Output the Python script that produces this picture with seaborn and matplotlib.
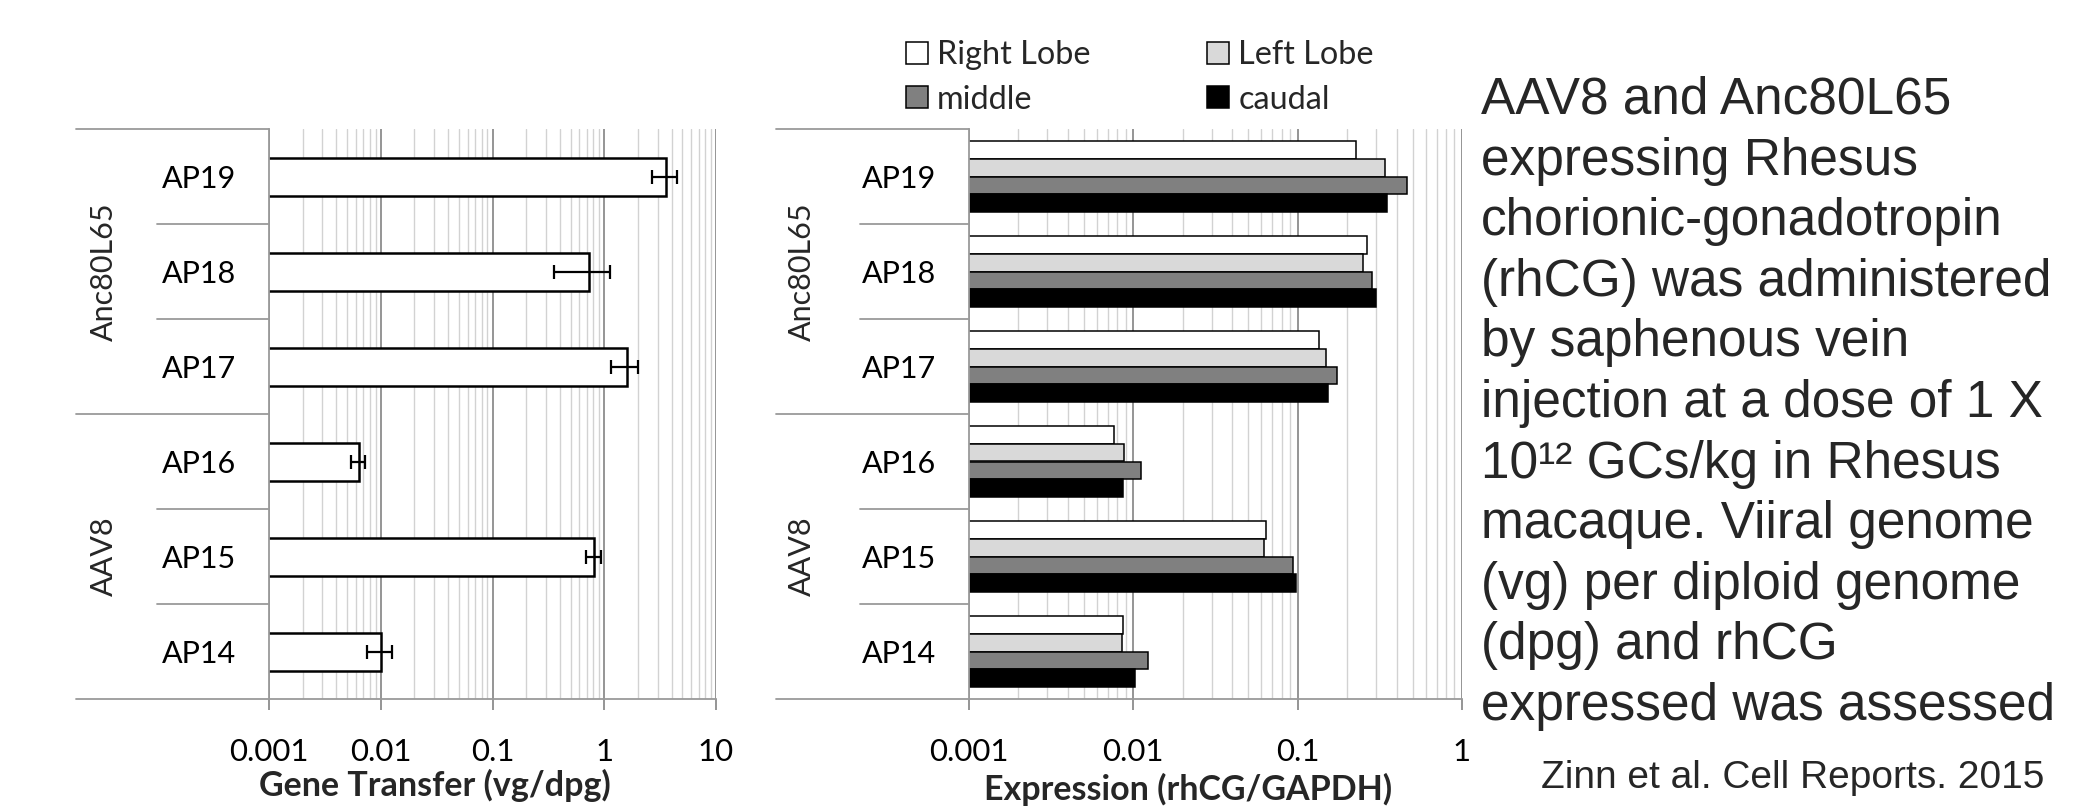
import numpy as np
import pandas as pd
import matplotlib
matplotlib.use("Agg")
import matplotlib.pyplot as plt
import matplotlib.transforms as mtransforms
from matplotlib.ticker import LogLocator, NullFormatter, FixedLocator, FixedFormatter
from matplotlib.patches import Patch
import seaborn as sns

# ---------------- data ----------------
animals = ["AP19", "AP18", "AP17", "AP16", "AP15", "AP14"]
animal_group = ["Anc80L65", "Anc80L65", "Anc80L65", "AAV8", "AAV8", "AAV8"]
groups = ["Anc80L65", "AAV8"]

gene_transfer = [3.59, 0.735, 1.59, 0.00635, 0.811, 0.0101]
gene_transfer_err = [0.90, 0.38, 0.43, 0.0009, 0.13, 0.0025]

lobes = ["Right Lobe", "Left Lobe", "middle", "caudal"]
right_lobe = [0.228, 0.265, 0.135, 0.0076, 0.0644, 0.00865]
left_lobe = [0.342, 0.251, 0.148, 0.0088, 0.0623, 0.0085]
middle = [0.463, 0.283, 0.173, 0.0111, 0.0942, 0.0122]
caudal = [0.349, 0.300, 0.153, 0.0087, 0.098, 0.0103]

gt_ticks = [0.001, 0.01, 0.1, 1, 10]
gt_tick_labels = ["0.001", "0.01", "0.1", "1", "10"]
ex_ticks = [0.001, 0.01, 0.1, 1]
ex_tick_labels = ["0.001", "0.01", "0.1", "1"]

gt_xlabel = "Gene Transfer (vg/dpg)"
ex_xlabel = "Expression (rhCG/GAPDH)"

caption_lines = [
    "AAV8 and Anc80L65",
    "expressing Rhesus",
    "chorionic-gonadotropin",
    "(rhCG) was administered",
    "by saphenous vein",
    "injection at a dose of 1 X",
    "10\u00b9\u00b2 GCs/kg in Rhesus",
    "macaque. Viiral genome",
    "(vg) per diploid genome",
    "(dpg) and rhCG",
    "expressed was assessed",
]
citation = "Zinn et al. Cell Reports. 2015"

lobe_colors = ["#ffffff", "#d9d9d9", "#808080", "#000000"]

# ---------------- style ----------------
sns.set_style("white")
plt.rcParams["font.family"] = ["Lato", "DejaVu Sans"]
TICK_FS = 22.5
CAT_FS = 22
XLABEL_FS = 24.5
LEGEND_FS = 23.3
LINE_C = "#9a9a9a"

fig = plt.figure(figsize=(20.88, 8.07), dpi=100)
W, H = 2088.0, 807.0

def ax_rect(x0, x1, ytop, ybot):
    return [x0 / W, 1 - ybot / H, (x1 - x0) / W, (ybot - ytop) / H]

ax1 = fig.add_axes(ax_rect(269, 716, 129, 699))
ax2 = fig.add_axes(ax_rect(969, 1462, 129, 699))

df_gt = pd.DataFrame({"animal": animals, "value": gene_transfer})
df_ex = pd.DataFrame({"animal": animals, "Right Lobe": right_lobe,
                      "Left Lobe": left_lobe, "middle": middle, "caudal": caudal})
df_ex = df_ex.melt(id_vars="animal", var_name="lobe", value_name="value")

sns.barplot(data=df_gt, y="animal", x="value", order=animals, color="white",
            edgecolor="black", linewidth=1.8, width=0.4, errorbar=None,
            saturation=1, ax=ax1)
sns.barplot(data=df_ex, y="animal", x="value", hue="lobe", hue_order=lobes,
            order=animals, palette=lobe_colors, edgecolor="black", linewidth=1.1,
            width=0.74, errorbar=None, saturation=1, legend=False, ax=ax2)

# error bars on the gene transfer panel
centers = [p.get_y() + p.get_height() / 2 for p in ax1.patches]
ax1.errorbar(gene_transfer, centers, xerr=gene_transfer_err, fmt="none",
             ecolor="black", elinewidth=1.6, capsize=5, capthick=1.6, zorder=5)


def style_axis(ax, ticks, tick_labels, xlabel, label_x, label_y,
               area_start, inner_start, group_x):
    ax.set_xscale("log")
    ax.set_xlim(ticks[0], ticks[-1])
    ax.xaxis.set_major_locator(FixedLocator(ticks))
    ax.xaxis.set_major_formatter(FixedFormatter(tick_labels))
    ax.xaxis.set_minor_locator(LogLocator(base=10, subs=np.arange(2, 10), numticks=30))
    ax.xaxis.set_minor_formatter(NullFormatter())
    ax.set_axisbelow(True)
    ax.grid(True, which="minor", axis="x", color="#d2d2d2", lw=1.0)
    ax.grid(True, which="major", axis="x", color="#8c8c8c", lw=1.3)
    ax.grid(False, axis="y")
    for s in ["top", "right"]:
        ax.spines[s].set_visible(False)
    for s in ["left", "bottom"]:
        ax.spines[s].set_color(LINE_C)
        ax.spines[s].set_linewidth(1.3)
    ax.tick_params(axis="y", which="both", left=False, length=0, labelsize=CAT_FS,
                   colors="black", pad=24)
    ax.tick_params(axis="x", which="minor", bottom=False, length=0)
    ax.tick_params(axis="x", which="major", bottom=True, length=8, width=1.3,
                   direction="out", color="#8c8c8c", labelcolor="black",
                   labelsize=TICK_FS, pad=20)
    ax.set_ylabel("")
    ax.set_xlabel(xlabel, fontsize=XLABEL_FS, fontweight="bold")
    ax.xaxis.set_label_coords(label_x, label_y)
    ax.xaxis.label.set_va("center")

    tr = mtransforms.blended_transform_factory(ax.transAxes, ax.transData)
    n = len(animals)
    bounds = [-0.5]
    for i in range(1, n):
        if animal_group[i] != animal_group[i - 1]:
            bounds.append(i - 0.5)
    bounds.append(n - 0.5)
    for b in bounds:
        ax.plot([area_start, 0], [b, b], color=LINE_C, lw=1.3,
                transform=tr, clip_on=False)
    for i in range(1, n):
        b = i - 0.5
        if b not in bounds:
            ax.plot([inner_start, 0], [b, b], color=LINE_C, lw=1.3,
                    transform=tr, clip_on=False)
    for g in groups:
        idx = [i for i, a in enumerate(animal_group) if a == g]
        ax.text(group_x, np.mean(idx), g, rotation=90, transform=tr,
                ha="center", va="center", fontsize=CAT_FS)
    ax.set_ylim(n - 0.5, -0.5)


style_axis(ax1, gt_ticks, gt_tick_labels, gt_xlabel, 0.371, -0.151,
           (76 - 269) / 447, (157 - 269) / 447, (104 - 269) / 447)
style_axis(ax2, ex_ticks, ex_tick_labels, ex_xlabel, 0.444, -0.159,
           (776 - 969) / 493, (860 - 969) / 493, (802 - 969) / 493)

# legend (two columns, row-major as in reference)
handles = [Patch(facecolor=c, edgecolor="black", linewidth=1.1) for c in lobe_colors]
order = [0, 2, 1, 3]
fig.legend([handles[i] for i in order], [lobes[i] for i in order],
           ncol=2, loc="upper left", bbox_to_anchor=(906 / W, 1 - 40 / H),
           frameon=False, fontsize=LEGEND_FS, handlelength=0.68, handleheight=0.68,
           handletextpad=0.28, columnspacing=3.6, labelspacing=0.45,
           borderpad=0, borderaxespad=0)

# caption text
for k, line in enumerate(caption_lines):
    fig.text(1481 / W, 1 - (114 + 60.6 * k) / H, line, fontsize=37,
             family=["Liberation Sans", "DejaVu Sans"], ha="left", va="baseline")
fig.text(1541 / W, 1 - 788 / H, citation, fontsize=28,
         family=["Liberation Sans", "DejaVu Sans"], ha="left", va="baseline")

fig.savefig("out.png", dpi=100, facecolor="white")
